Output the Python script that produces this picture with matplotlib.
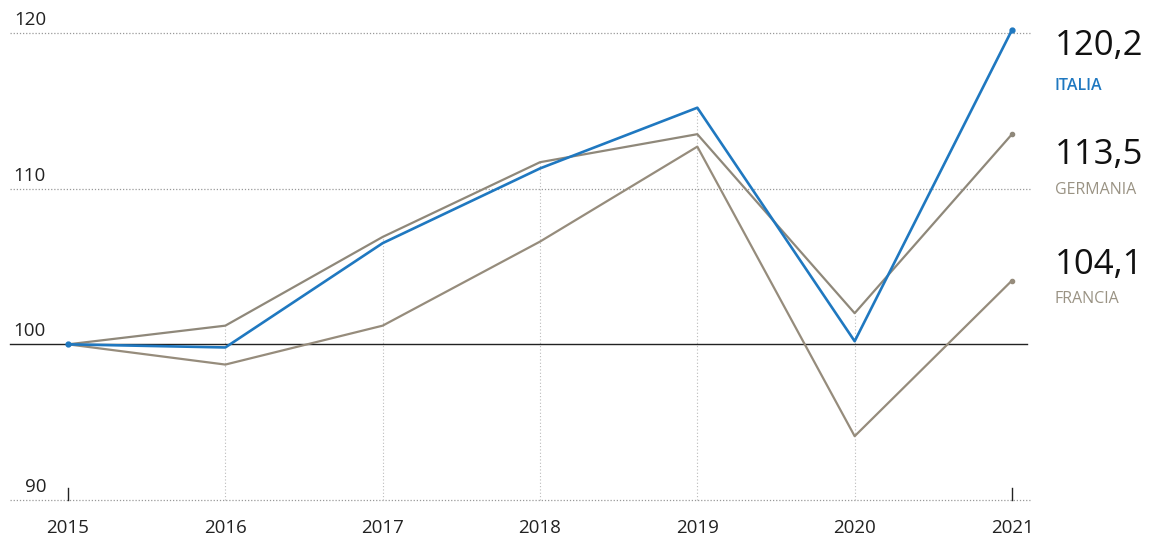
import matplotlib
matplotlib.use("Agg")
import matplotlib.pyplot as plt

plt.rcParams['font.family'] = ['Open Sans', 'DejaVu Sans']

# Data (index, 2015 = 100)
years = [2015, 2016, 2017, 2018, 2019, 2020, 2021]
italia = [100.0, 99.8, 106.5, 111.3, 115.2, 100.2, 120.2]
germania = [100.0, 101.2, 106.9, 111.7, 113.5, 102.0, 113.5]
francia = [100.0, 98.7, 101.2, 106.6, 112.7, 94.1, 104.1]
yticks = [90, 100, 110, 120]

c_ita = '#1f78c0'
c_ger = '#8f887a'
c_fra = '#968c7c'

fig = plt.figure(figsize=(11.6, 5.39), dpi=100)
ax = fig.add_axes([0, 0, 1, 1])
# pixel layout: 2015 -> x 68, 2021 -> x 1012 ; 120 -> y 33, 90 -> y 500
px_x = (1012 - 68) / 6
px_y = (500 - 33) / 30
ax.set_xlim(2015 - 68 / px_x, 2015 + (1160 - 68) / px_x)
ax.set_ylim(90 - 39 / px_y, 120 + 33 / px_y)
ax.axis('off')

x_left = 2015 - 58 / px_x
x_right = 2015 + (1030 - 68) / px_x
x_ylab = 2015 - (68 - 46) / px_x

# horizontal grid
for v in yticks:
    if v == 100:
        ax.plot([x_left, 2015 + (1027 - 68) / px_x], [v, v], color='#222222', lw=1.0, zorder=2)
    else:
        ax.plot([x_left, x_right], [v, v], color='#999999', lw=0.9, ls=(0, (1, 1.5)), zorder=1)
    ax.text(x_ylab, v + 4 / px_y, str(v), fontsize=13.5, color='#222222', ha='right', va='bottom')

# vertical dotted guides
for i, yr in enumerate(years[1:-1], start=1):
    top = max(italia[i], germania[i], francia[i])
    ax.plot([yr, yr], [90, top], color='#bbbbbb', lw=0.8, ls=(0, (1, 2)), zorder=1)

# end ticks
for yr in (years[0], years[-1]):
    ax.plot([yr, yr], [90, 90 + 12 / px_y], color='#222222', lw=1.0, zorder=2)

# series
ax.plot(years, francia, color=c_fra, lw=1.6, zorder=3)
ax.plot(years, germania, color=c_ger, lw=1.6, zorder=3)
ax.plot(years, italia, color=c_ita, lw=1.9, zorder=4)
ax.plot([years[0], years[-1]], [italia[0], italia[-1]], 'o', color=c_ita, ms=3.5, zorder=5)
ax.plot([years[-1]], [germania[-1]], 'o', color=c_ger, ms=3, zorder=5)
ax.plot([years[-1]], [francia[-1]], 'o', color=c_fra, ms=3, zorder=5)

# year labels
for yr in years:
    ax.text(yr, 90 - 28 / px_y, str(yr), fontsize=13.5, color='#222222', ha='center', va='center')

# right-side labels
lab_x = 2015 + (1055 - 68) / px_x
def py(p):
    return 120 - (p - 33) / px_y

ax.text(lab_x, py(46), '120,2', fontsize=25, color='#111111', ha='left', va='center')
ax.text(lab_x, py(86), 'ITALIA', fontsize=11.5, color=c_ita, ha='left', va='center', fontweight='semibold')
ax.text(lab_x, py(155), '113,5', fontsize=25, color='#111111', ha='left', va='center')
ax.text(lab_x, py(190), 'GERMANIA', fontsize=11.5, color='#9a9384', ha='left', va='center')
ax.text(lab_x, py(265), '104,1', fontsize=25, color='#111111', ha='left', va='center')
ax.text(lab_x, py(299), 'FRANCIA', fontsize=11.5, color='#9a9384', ha='left', va='center')

fig.savefig('out.png', dpi=100)
